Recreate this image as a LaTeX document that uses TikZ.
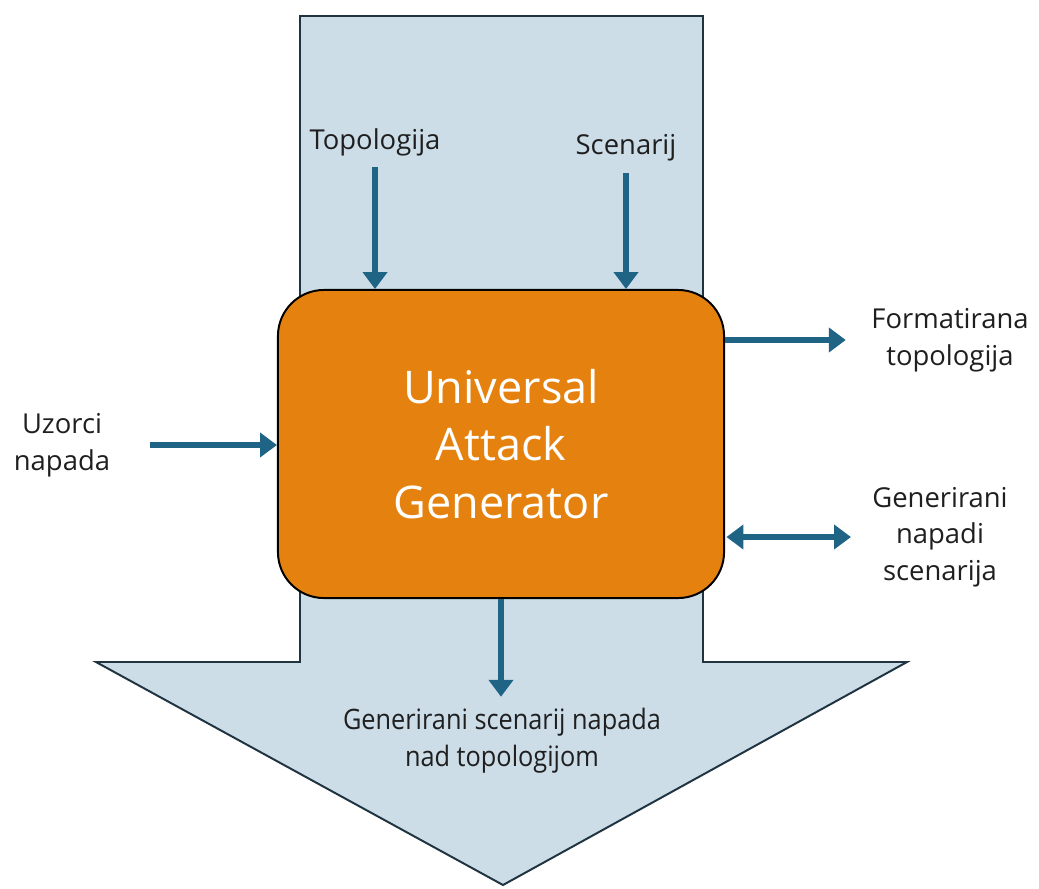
\documentclass[tikz,border=0pt]{standalone}
\usepackage{fontspec}
\setmainfont{Open Sans}
\newfontfamily\narrowfont[FakeStretch=0.9]{Open Sans}
\usetikzlibrary{arrows.meta}
\definecolor{shaftblue}{HTML}{CCDDE8}
\definecolor{shaftline}{HTML}{1F3340}
\definecolor{boxorange}{HTML}{E5820F}
\definecolor{flowblue}{HTML}{1F6385}
\tikzset{
  flow/.style={draw=flowblue, line width=3.9pt, -{Triangle[length=12pt,width=17pt]}},
  bothflow/.style={flow, {Triangle[length=12pt,width=17pt]}-{Triangle[length=12pt,width=17pt]}},
  lbl/.style={font=\fontsize{19.5}{26}\selectfont, align=center, text=black!88, inner sep=3pt},
}

\begin{document}
\begin{tikzpicture}[x=0.025cm, y=-0.025cm]
  \useasboundingbox (0,0) rectangle (1039,888);

  % big arrow behind everything
  \coordinate (shaftTL) at (300,16);
  \coordinate (shaftTR) at (703,16);
  \coordinate (shaftBR) at (703,662);
  \coordinate (headR) at (907,662);
  \coordinate (tip) at (503,885);
  \coordinate (headL) at (96,662);
  \coordinate (shaftBL) at (300,662);
  \draw[fill=shaftblue, draw=shaftline, line width=1.4pt, line join=miter]
    (shaftTL) -- (shaftTR) -- (shaftBR) -- (headR) -- (tip) -- (headL) -- (shaftBL) -- cycle;

  % the generator
  \node[draw=black, line width=1.4pt, fill=boxorange, rounded corners=1.15cm,
        minimum width=11.15cm, minimum height=7.7cm, align=center, text=white,
        font=\fontsize{32}{41}\selectfont] (uag) at (501,444)
        {Universal\\Attack\\Generator};

  %\node at (tip) {tip};

  \node[lbl] (topo) at (375,142) {Topologija};
  \node[lbl] (scen) at (626,148) {Scenarij};
  \node[lbl] (uzorci) at (62,445) {Uzorci\\napada};
  \node[lbl] (format) at (950,340) {Formatirana\\topologija};
  \node[lbl] (napadi) at (940,537) {Generirani\\napadi\\scenarija};
  \node[lbl, font=\narrowfont\fontsize{20}{26.5}\selectfont] (result) at (502,741)
        {Generirani scenarij napada\\nad topologijom};

  \draw[flow, shorten <=5pt] (topo.south) -- (topo.south |- uag.north);
  \draw[flow, shorten <=5pt] (scen.south) -- (scen.south |- uag.north);
  \draw[flow, shorten <=25pt] (uzorci.east) -- (uzorci.east -| uag.west);
  \draw[flow, shorten >=15pt] (format.west -| uag.east) -- (format.west);
  \draw[bothflow, shorten >=12pt, shorten <=1pt] (napadi.west -| uag.east) -- (napadi.west);
  \draw[flow, shorten >=5pt] (uag.south) -- (uag.south |- result.north);
\end{tikzpicture}
\end{document}
